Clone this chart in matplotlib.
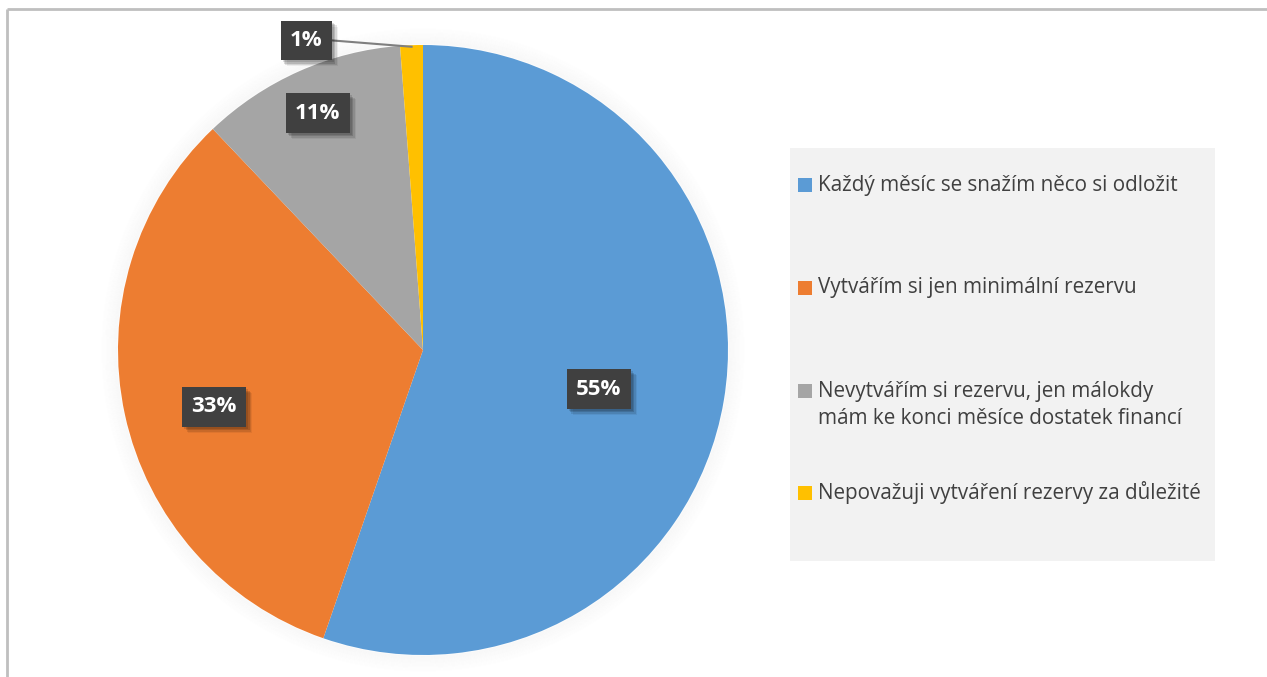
import matplotlib
matplotlib.use("Agg")
import matplotlib.pyplot as plt
import matplotlib.patheffects as pe
from matplotlib.patches import Rectangle, Circle
import numpy as np

# ---- data ----
categories = [
    "Každý měsíc se snažím něco si odložit",
    "Vytvářím si jen minimální rezervu",
    "Nevytvářím si rezervu, jen málokdy\nmám ke konci měsíce dostatek financí",
    "Nepovažuji vytváření rezervy za důležité",
]
values = [55.3, 32.6, 10.9, 1.2]
colors = ["#5b9bd5", "#ed7d31", "#a5a5a5", "#ffc000"]

W, H = 1267, 677
def Y(py):
    return H - py

fig = plt.figure(figsize=(W / 100, H / 100), dpi=100)
ax = fig.add_axes([0, 0, 1, 1])

cx, cy, R = 423, Y(350), 305

# soft glow around pie
for k in range(1, 18):
    ax.add_patch(Circle((cx, cy), R + k, fc="none", ec="#808080",
                        lw=1.2, alpha=0.035 * (1 - k / 18), zorder=0))

wedges, _ = ax.pie(values, colors=colors, startangle=90, counterclock=False,
                   center=(cx, cy), radius=R,
                   wedgeprops=dict(linewidth=0))

ax.set_xlim(0, W)
ax.set_ylim(0, H)
ax.set_aspect("auto")
ax.axis("off")

# data labels
label_r = [0.59, 0.71, 0.85, 1.085]
label_dang = [-3.0, 3.0, 0.0, 18.5]
shadow = [pe.SimplePatchShadow(offset=(o, -o), shadow_rgbFace="#000000", alpha=a)
          for o, a in [(4.5, 0.06), (3.5, 0.10), (2.5, 0.14), (1.5, 0.12)]]
for i, (w, v) in enumerate(zip(wedges, values)):
    mid = (w.theta1 + w.theta2) / 2.0
    ang = np.deg2rad(mid + label_dang[i])
    lx = cx + label_r[i] * R * np.cos(ang)
    ly = cy + label_r[i] * R * np.sin(ang)
    if i == 3:
        ma = np.deg2rad(mid)
        ex, ey = cx + 0.995 * R * np.cos(ma), cy + 0.995 * R * np.sin(ma)
        ax.plot([lx + 25, ex], [ly, ey], color="#7f7f7f", lw=1.5, zorder=3)
    t = ax.text(lx, ly, f"{v:.0f}%", ha="center", va="center",
                fontsize=16, fontweight="bold", family="Open Sans",
                color="white", zorder=5,
                bbox=dict(boxstyle="square,pad=0.42", fc="#404040", ec="none"))
    t.get_bbox_patch().set_path_effects(shadow + [pe.Normal()])

# legend box (manual)
ax.add_patch(Rectangle((790, Y(561)), 1215 - 790, 561 - 148,
                       fc="#f2f2f2", ec="none", zorder=1))
leg_y = [185, 288, 391, 493]
for cat, col, py in zip(categories, colors, leg_y):
    ax.add_patch(Rectangle((798, Y(py) - 7), 14, 14, fc=col, ec="none", zorder=2))
    for j, ln in enumerate(cat.split("\n")):
        ax.text(818, Y(py + 28 * j), ln, ha="left", va="center",
                fontsize=14.9, family="Open Sans", color="#404040", zorder=2)

# chart border
ax.plot([7, 7], [Y(9), 0], color="#bfbfbf", lw=2, solid_capstyle="butt", clip_on=False)
ax.plot([7, W], [Y(9), Y(9)], color="#bfbfbf", lw=2, solid_capstyle="butt", clip_on=False)

fig.savefig("out.png", dpi=100, facecolor="white")
